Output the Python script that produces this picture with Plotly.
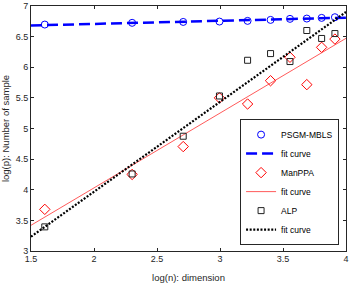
import numpy as np
import plotly.graph_objects as go

# data
dims = [5, 10, 15, 20, 25, 30, 35, 40, 45, 50]
log_n = list(np.log(dims))
psgm = [6.697, 6.725, 6.740, 6.746, 6.757, 6.773, 6.790, 6.795, 6.806, 6.817]
manppa = [3.68, 4.25, 4.705, 5.50, 5.40, 5.78, 6.163, 5.716, 6.325, 6.46]
alp = [3.394, 4.258, 4.874, 5.531, 6.114, 6.223, 6.093, 6.60, 6.47, 6.55]
x_ticks = [1.5, 2, 2.5, 3, 3.5, 4]
y_ticks = [3, 3.5, 4, 4.5, 5, 5.5, 6, 6.5, 7]
x_range = [1.5, 4]
y_range = [3, 7]

xf = np.linspace(x_range[0], x_range[1], 50)


def fit(y):
    c = np.polyfit(log_n, y, 1)
    return np.polyval(c, xf)


FONT = "Liberation Sans, Arial, sans-serif"
AX = "#262626"

fig = go.Figure()
fig.add_trace(go.Scatter(x=log_n, y=psgm, mode="markers", name="PSGM-MBLS",
                         marker=dict(symbol="circle-open", size=7, color="#0000FF",
                                     line=dict(width=1, color="#0000FF"))))
fig.add_trace(go.Scatter(x=xf, y=fit(psgm), mode="lines", name="fit curve",
                         line=dict(color="#0000FF", width=2.5, dash="11px,5px")))
fig.add_trace(go.Scatter(x=log_n, y=manppa, mode="markers", name="ManPPA",
                         marker=dict(symbol="diamond-open", size=8, color="#FF0000",
                                     line=dict(width=1, color="#FF0000"))))
fig.add_trace(go.Scatter(x=xf, y=fit(manppa), mode="lines", name="fit curve",
                         line=dict(color="#FF3030", width=0.8)))
fig.add_trace(go.Scatter(x=log_n, y=alp, mode="markers", name="ALP",
                         marker=dict(symbol="square-open", size=6, color="#202020",
                                     line=dict(width=1, color="#202020"))))
fig.add_trace(go.Scatter(x=xf, y=fit(alp), mode="lines", name="fit curve",
                         line=dict(color="#000000", width=2.2, dash="2px,1.6px")))

axis_common = dict(showgrid=False, zeroline=False, showline=True, mirror="ticks",
                   linecolor=AX, linewidth=1, ticks="inside", ticklen=3,
                   tickcolor=AX, ticklabeloverflow="allow", automargin=False,
                   tickfont=dict(family=FONT, size=9, color=AX))

fig.update_layout(
    width=349, height=283,
    margin=dict(l=31, r=3, t=6, b=32),
    plot_bgcolor="white", paper_bgcolor="white",
    font=dict(family=FONT, size=9, color=AX),
    xaxis=dict(range=x_range, tickvals=x_ticks, ticktext=[f"{v:g}" for v in x_ticks],
               ticklabelstandoff=-1,
               title=dict(text="log(n): dimension", font=dict(size=9.5), standoff=11),
               **axis_common),
    yaxis=dict(range=y_range, tickvals=y_ticks, ticktext=[f"{v:g}" for v in y_ticks],
               title=dict(text="log(p): Number of sample", font=dict(size=9.5), standoff=4),
               **axis_common),
    legend=dict(x=0.978, y=0.024, xanchor="right", yanchor="bottom",
                bgcolor="white", bordercolor=AX, borderwidth=1,
                font=dict(family=FONT, size=8.5, color="#000"),
                tracegroupgap=0, itemwidth=30),
    showlegend=True,
)

fig.write_html(
    "out.html", config={"displayModeBar": False},
    post_script=("document.body.style.margin='0';"
                 "document.body.style.overflow='hidden';"
                 "Plotly.relayout(document.getElementById('{plot_id}'), {});"))
